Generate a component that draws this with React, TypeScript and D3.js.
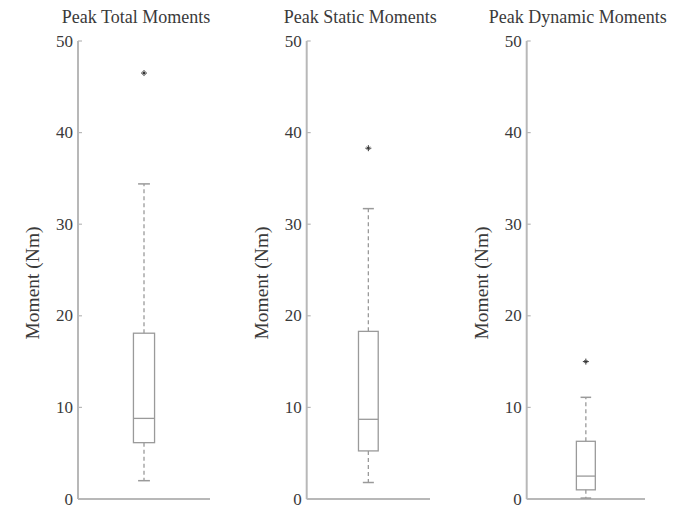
import React from "react";
import * as d3 from "d3";

const categories = ["Peak Total Moments", "Peak Static Moments", "Peak Dynamic Moments"];
const whiskerLow = [2.0, 1.8, 0.1];
const q1 = [6.15, 5.25, 1.0];
const median = [8.8, 8.7, 2.5];
const q3 = [18.1, 18.3, 6.3];
const whiskerHigh = [34.4, 31.7, 11.1];
const outliers = [[46.5], [38.3], [15.0]];
const yTicks = [0, 10, 20, 30, 40, 50];

const W = 689;
const H = 507;
const panelLeft = [78, 306.7, 526.7];
const panelRight = [210, 430, 645];
const FONT = "'Liberation Serif', 'Times New Roman', serif";
const TEXT = "#3a3a3a";
const AXIS = "#b8b8b8";
const BOX = "#9a9a9a";

export default function App() {
  const y = d3.scaleLinear().domain([0, 50]).range([499, 41]);
  return (
    <svg width={W} height={H} style={{ position: "absolute", left: 0, top: 0, background: "#fff" }}>
      {categories.map((cat, i) => {
        const x = d3.scaleBand<string>().domain([cat]).range([panelLeft[i], panelRight[i]]).paddingInner(0.84).paddingOuter(0.42);
        const bw = x.bandwidth();
        const x0 = x(cat) as number;
        const cx = x0 + bw / 2;
        const capW = bw * 0.56;
        const ax = panelLeft[i];
        return (
          <g key={cat}>
            <text x={cx - 8} y={23} textAnchor="middle" fontFamily={FONT} fontSize={18} fill={TEXT}>{cat}</text>
            <text
              transform={`translate(${ax - 39},${283}) rotate(-90)`}
              textAnchor="middle"
              fontFamily={FONT}
              fontSize={19.5}
              fill={TEXT}
            >Moment (Nm)</text>
            <line x1={ax} x2={ax} y1={y(50)} y2={y(0)} stroke={AXIS} strokeWidth={2} />
            <line x1={ax} x2={panelRight[i]} y1={y(0)} y2={y(0)} stroke={AXIS} strokeWidth={2} />
            {yTicks.map((t) => (
              <g key={t}>
                <line x1={ax} x2={ax + 4} y1={y(t)} y2={y(t)} stroke={AXIS} strokeWidth={1.2} />
                <text x={ax - 5} y={y(t)} dy="0.33em" textAnchor="end" fontFamily={FONT} fontSize={17} fill={TEXT}>{t}</text>
              </g>
            ))}
            <line x1={cx} x2={cx} y1={y(q3[i])} y2={y(whiskerHigh[i])} stroke={BOX} strokeWidth={1.3} strokeDasharray="4,3" />
            <line x1={cx} x2={cx} y1={y(q1[i])} y2={y(whiskerLow[i])} stroke={BOX} strokeWidth={1.3} strokeDasharray="4,3" />
            <line x1={cx - capW / 2} x2={cx + capW / 2} y1={y(whiskerHigh[i])} y2={y(whiskerHigh[i])} stroke={BOX} strokeWidth={1.5} />
            <line x1={cx - capW / 2} x2={cx + capW / 2} y1={y(whiskerLow[i])} y2={y(whiskerLow[i])} stroke={BOX} strokeWidth={1.5} />
            <rect x={x0} y={y(q3[i])} width={bw} height={y(q1[i]) - y(q3[i])} fill="none" stroke={BOX} strokeWidth={1.3} />
            <line x1={x0} x2={x0 + bw} y1={y(median[i])} y2={y(median[i])} stroke={BOX} strokeWidth={1.3} />
            {outliers[i].map((o, k) => (
              <g key={k} transform={`translate(${cx},${y(o)})`}>
                <path d="M-3,0H3M0,-3V3M-1.5,-1.5L1.5,1.5M-1.5,1.5L1.5,-1.5" stroke="#333" strokeWidth={1} />
              </g>
            ))}
          </g>
        );
      })}
    </svg>
  );
}
